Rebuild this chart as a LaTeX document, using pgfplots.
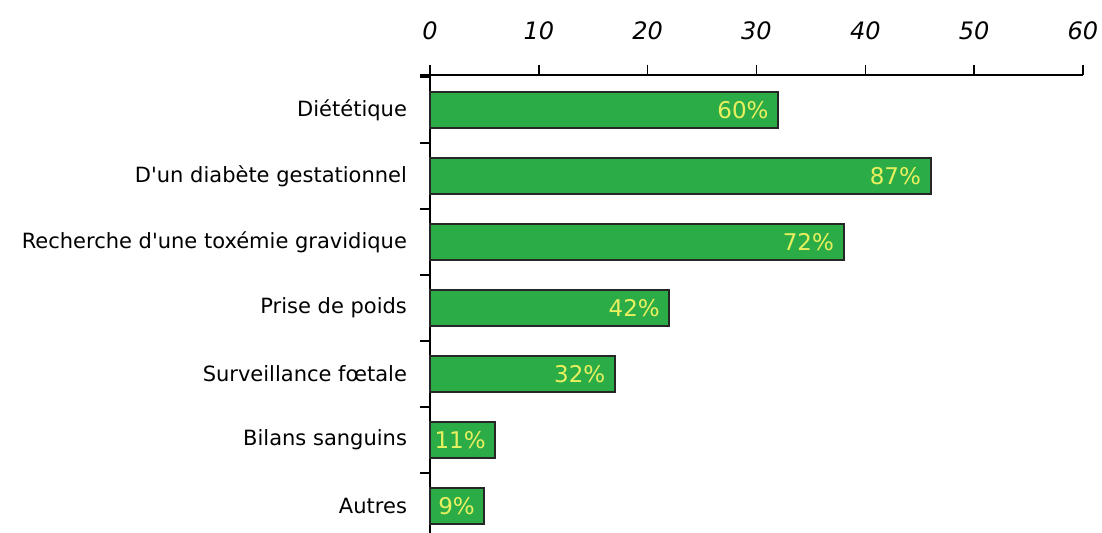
\documentclass[border=0pt]{standalone}
\usepackage{fontspec}
\setmainfont{DejaVu Sans}[Ligatures=TeXOff]
\usepackage{pgfplots}
\pgfplotsset{compat=1.18}
\usepackage{pgfplotstable}
\usetikzlibrary{calc}
\definecolor{bargreen}{RGB}{44,172,70}
\definecolor{labyellow}{RGB}{232,240,95}
\pgfplotstableread{
y x lab
6 32 60
5 46 87
4 38 72
3 22 42
2 17 32
1 6 11
0 5 9
}\data
\begin{document}
\begin{tikzpicture}
\begin{axis}[
  xbar,
  scale only axis, width=326.5pt, height=232pt,
  xmin=0, xmax=60, ymin=-0.5, ymax=6.53,
  axis x line=top, axis y line=left,
  axis line style={-, line width=0.8pt},
  every tick/.style={black, line width=0.8pt},
  tick align=outside, major tick length=5pt,
  xtick={0,10,...,60},
  xticklabel style={font=\fontsize{12}{14}\selectfont\itshape, yshift=9pt},
  /pgf/number format/assume math mode=true,
  ytick={-0.5,0.5,...,6.5},
  y tick label as interval,
  yticklabels={Autres, Bilans sanguins, Surveillance fœtale, Prise de poids, Recherche d'une toxémie gravidique, D'un diabète gestationnel, Diététique},
  yticklabel style={font=\fontsize{10.5}{12}\selectfont, xshift=-3pt},
  bar width=0.56,
  point meta=explicit symbolic,
  nodes near coords={\pgfplotspointmeta\%},
  nodes near coords style={anchor=east, xshift=-1pt, text=labyellow, font=\fontsize{11.5}{13}\selectfont},
  clip=false,
]
\addplot[fill=bargreen, draw=black!85, line width=1pt] table[x=x, y=y, meta=lab] {\data};
\coordinate (bl) at (rel axis cs:0,0);
\coordinate (tr) at (rel axis cs:1,1);
\end{axis}
\draw[line width=0.8pt] (bl|-tr) -- ++(-5pt,0);
\pgfresetboundingbox
\path ($(bl)+(-215pt,3.5pt)$) rectangle ($(tr)+(9.5pt,37.5pt)$);
\end{tikzpicture}
\end{document}
